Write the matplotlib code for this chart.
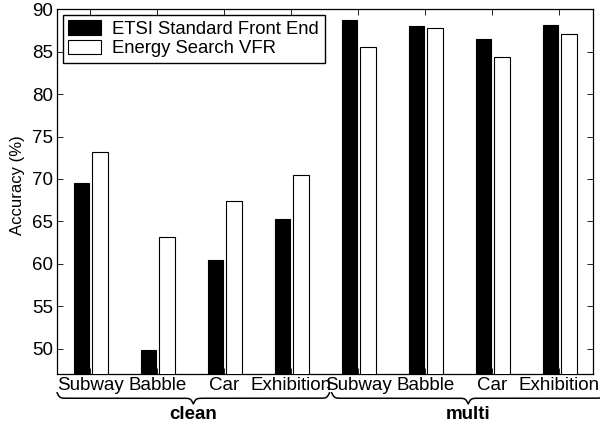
#!/usr/bin/env python3
"""Accuracy of the ETSI front end vs. energy-search VFR, clean and multi-condition training."""

from __future__ import annotations

import matplotlib

matplotlib.use("Agg")
import matplotlib.pyplot as plt
import matplotlib.transforms as mtransforms
import numpy as np

NOISE_TYPES = ["Subway", "Babble", "Car", "Exhibition"]
TRAINING_SETS = ["clean", "multi"]
SERIES_NAMES = ["ETSI Standard Front End", "Energy Search VFR"]

# accuracy (%) per noise type, clean block first then multi block
etsi_acc = [69.5, 49.8, 60.5, 65.3, 88.75, 88.05, 86.55, 88.1]
vfr_acc = [73.2, 63.1, 67.45, 70.5, 85.6, 87.85, 84.4, 87.1]

Y_MIN, Y_MAX = 47, 90
FONT = "Liberation Sans"


def draw_brace(ax, x0: float, x1: float, y: float, depth: float, beta: float = 50.0) -> None:
    """Downward curly brace from x0 to x1 (data units) hanging below the axes at y (axes fraction)."""
    trans = mtransforms.blended_transform_factory(ax.transData, ax.transAxes)
    n = 401
    xs = np.linspace(x0, x1, n)
    half = xs[: n // 2 + 1]
    yh = 1.0 / (1.0 + np.exp(-beta * (half - half[0]))) + 1.0 / (1.0 + np.exp(-beta * (half - half[-1])))
    shape = np.concatenate((yh, yh[-2::-1]))
    ys = y - (shape - 0.5) * depth
    ax.plot(xs, ys, color="black", lw=1.1, transform=trans, clip_on=False,
            solid_capstyle="round")


def main() -> None:
    plt.rcParams["font.family"] = [FONT, "DejaVu Sans"]

    fig = plt.figure(figsize=(6, 4.25), dpi=100)
    ax = fig.add_axes([0.095, 0.12, 0.893, 0.858])

    x = np.arange(1, len(etsi_acc) + 1)
    width = 0.23
    ax.bar(x - 0.135, etsi_acc, width, color="black", edgecolor="black", lw=0.8,
           label=SERIES_NAMES[0], zorder=3)
    ax.bar(x + 0.145, vfr_acc, width, color="white", edgecolor="black", lw=0.8,
           label=SERIES_NAMES[1], zorder=3)

    ax.set_xlim(0.5, 8.5)
    ax.set_ylim(Y_MIN, Y_MAX)
    ax.set_xticks(x)
    ax.set_xticklabels(NOISE_TYPES * len(TRAINING_SETS))
    ax.set_yticks(np.arange(50, 91, 5))

    ax.tick_params(direction="in", length=4, width=0.6, top=True, right=True,
                   labelsize=13.5)
    ax.tick_params(axis="x", pad=2.5)
    ax.tick_params(axis="y", pad=3)
    for sp in ax.spines.values():
        sp.set_linewidth(0.9)

    ax.set_ylabel("Accuracy (%)", fontsize=12)
    ax.yaxis.set_label_coords(-0.06, 0.517)

    leg = ax.legend(loc="upper left", fontsize=13.3, fancybox=False, framealpha=1,
                    edgecolor="black", borderaxespad=0.3, borderpad=0.3,
                    labelspacing=0.1, handlelength=1.8, handleheight=0.8,
                    handletextpad=0.6)
    leg.get_frame().set_linewidth(1.0)

    # group braces under the tick labels
    groups = [(0.5, 4.57), (4.6, 8.68)]
    for (g0, g1), name in zip(groups, TRAINING_SETS):
        draw_brace(ax, g0, g1, -0.051, 0.031)
        ax.text((g0 + g1) / 2, -0.112, name, fontsize=13.5, fontweight="bold",
                ha="center", va="center",
                transform=mtransforms.blended_transform_factory(ax.transData, ax.transAxes))

    fig.savefig("out.png", dpi=100)
    plt.close(fig)


if __name__ == "__main__":
    main()
